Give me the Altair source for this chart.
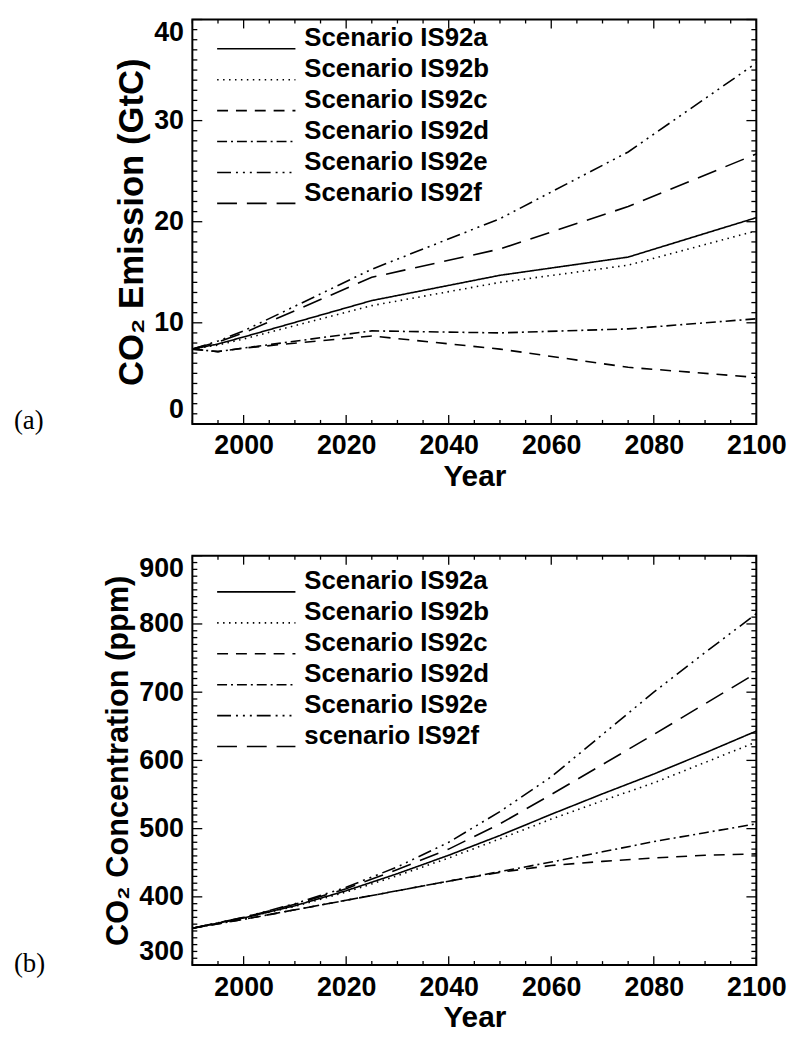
import altair as alt
import pandas as pd

# ---------------- data ----------------
scenarios = ["IS92a", "IS92b", "IS92c", "IS92d", "IS92e", "IS92f"]
legend_top = ["Scenario IS92a", "Scenario IS92b", "Scenario IS92c",
              "Scenario IS92d", "Scenario IS92e", "Scenario IS92f"]
legend_bot = ["Scenario IS92a", "Scenario IS92b", "Scenario IS92c",
              "Scenario IS92d", "Scenario IS92e", "scenario IS92f"]

# (a) CO2 emission, GtC
em_years = [1990, 1995, 2000, 2025, 2050, 2075, 2100]
em_a = [7.4, 7.9, 8.6, 12.2, 14.7, 16.5, 20.4]
em_b = [7.4, 7.8, 8.4, 11.7, 14.0, 15.7, 19.1]
em_c = [7.4, 7.15, 7.5, 8.7, 7.4, 5.6, 4.6]
em_d = [7.4, 7.15, 7.5, 9.2, 9.0, 9.4, 10.4]
em_e = [7.4, 8.2, 9.2, 15.3, 20.3, 26.9, 35.7]
em_f = [7.4, 8.1, 9.0, 14.5, 17.3, 21.5, 26.7]

# (b) CO2 concentration, ppm
co_years = [1990, 2000, 2010, 2020, 2030, 2040, 2050, 2060, 2070, 2080, 2090, 2100]
co_a = [354, 369, 387, 409, 434, 461, 490, 521, 551, 580, 611, 643]
co_b = [354, 369, 386, 407, 431, 457, 485, 514, 541, 567, 597, 627]
co_c = [354, 367, 381, 395, 409, 423, 436, 446, 452, 457, 461, 463]
co_d = [354, 367, 381, 395, 409, 423, 437, 451, 466, 481, 494, 507]
co_e = [354, 370, 390, 414, 444, 480, 525, 576, 638, 700, 758, 815]
co_f = [354, 370, 389, 412, 440, 470, 507, 550, 594, 638, 683, 728]

# axis ticks
x_major = [2000, 2020, 2040, 2060, 2080, 2100]
x_minor = [y for y in range(1990, 2101, 5) if y not in x_major]
em_major = [0, 10, 20, 30, 40]
em_minor = [v for v in range(0, 41) if v not in em_major]
co_major = [300, 400, 500, 600, 700, 800, 900]
co_minor = [v for v in range(300, 901, 10) if v not in co_major]


def long_df(years, series):
    rows = []
    for s, vals in zip(scenarios, series):
        for yr, v in zip(years, vals):
            rows.append({"scenario": s, "year": yr, "value": v})
    return pd.DataFrame(rows)


em_df = long_df(em_years, [em_a, em_b, em_c, em_d, em_e, em_f])
co_df = long_df(co_years, [co_a, co_b, co_c, co_d, co_e, co_f])

# ---------------- style ----------------
W = 569
FONT = "Liberation Sans"
dash_scale = alt.Scale(
    domain=scenarios,
    range=[[1, 0], [1.5, 4.5], [11, 8], [10, 4, 2, 4],
           [14, 5, 2, 5, 2, 5, 2, 5], [20, 10]],
)
LW = 1.6


def panel(df, H, ydomain, ymajor, yminor, ytitle, ytitle_size, labels, tag,
          leg_text_y0, tag_y, xlab_pad, xtitle_pad):
    xscale = alt.Scale(domain=[1990, 2100], nice=False, zero=False)
    yscale = alt.Scale(domain=ydomain, nice=False, zero=False)
    xaxis = alt.Axis(values=x_major, format="d", title="Year",
                     labelPadding=xlab_pad, titlePadding=xtitle_pad,
                     labelFlush=False, grid=False, ticks=False, tickSize=0,
                     domain=False)
    yaxis = alt.Axis(values=ymajor, format="d", title=ytitle,
                     titleFontSize=ytitle_size,
                     labelPadding=9, titlePadding=4, labelFlush=True,
                     grid=False, ticks=False, tickSize=0, domain=False)

    def X(f):
        return alt.X(f, scale=xscale, axis=xaxis)

    def Y(f):
        return alt.Y(f, scale=yscale, axis=yaxis)

    layers = []
    lines = alt.Chart(df).mark_line(color="black", strokeWidth=LW).encode(
        x=X("year:Q"), y=Y("value:Q"),
        strokeDash=alt.StrokeDash("scenario:N", scale=dash_scale, legend=None),
    )
    layers.append(lines)

    # inward tick marks on all four sides
    for vals, ln in [(ymajor, 10), (yminor, 5)]:
        d = pd.DataFrame({"v": vals})
        layers.append(alt.Chart(d).mark_rule(color="black", strokeWidth=1.3).encode(
            y=Y("v:Q"), x=alt.value(0), x2=alt.value(ln)))
        layers.append(alt.Chart(d).mark_rule(color="black", strokeWidth=1.3).encode(
            y=Y("v:Q"), x=alt.value(W), x2=alt.value(W - ln)))
    for vals, ln in [(x_major, 9), (x_minor, 4)]:
        d = pd.DataFrame({"v": vals})
        layers.append(alt.Chart(d).mark_rule(color="black", strokeWidth=1.3).encode(
            x=X("v:Q"), y=alt.value(H), y2=alt.value(H - ln)))
        layers.append(alt.Chart(d).mark_rule(color="black", strokeWidth=1.3).encode(
            x=X("v:Q"), y=alt.value(0), y2=alt.value(ln)))

    # in-plot legend
    step = 31.2
    for i, (s, lab) in enumerate(zip(scenarios, labels)):
        d = pd.DataFrame({"scenario": [s], "label": [lab]})
        ty = leg_text_y0 + step * i
        layers.append(alt.Chart(d).mark_rule(strokeWidth=LW, color="black").encode(
            x=alt.value(25), x2=alt.value(104), y=alt.value(ty + 2.5),
            strokeDash=alt.StrokeDash("scenario:N", scale=dash_scale, legend=None)))
        layers.append(alt.Chart(d).mark_text(
            align="left", baseline="alphabetic", font=FONT, fontWeight="bold",
            fontSize=26, color="black").encode(
            x=alt.value(113), y=alt.value(ty), text="label:N"))

    # panel tag
    d = pd.DataFrame({"tag": [tag]})
    layers.append(alt.Chart(d).mark_text(
        align="left", baseline="middle", font="Liberation Serif",
        fontSize=27, color="black").encode(
        x=alt.value(-180), y=alt.value(tag_y), text="tag:N"))

    return alt.layer(*layers).properties(width=W, height=H)


top = panel(em_df, 408, [0, 40], em_major, em_minor,
            "CO\u2082 Emission (GtC)", 35, legend_top, "(a)", 27, 405, 9, 3)
bot = panel(co_df, 413, [300, 900], co_major, co_minor,
            "CO\u2082 Concentration (ppm)", 31, legend_bot, "(b)", 34, 412, 10, 2)

chart = alt.vconcat(top, bot, spacing=62, background="white").configure_view(
    stroke="black", strokeWidth=2
).configure_axis(
    labelFont=FONT, labelFontWeight="bold", labelFontSize=27, labelColor="black",
    titleFont=FONT, titleFontWeight="bold", titleFontSize=30, titleColor="black",
)

chart.save("out.html", embed_options={"renderer": "svg", "actions": False})
